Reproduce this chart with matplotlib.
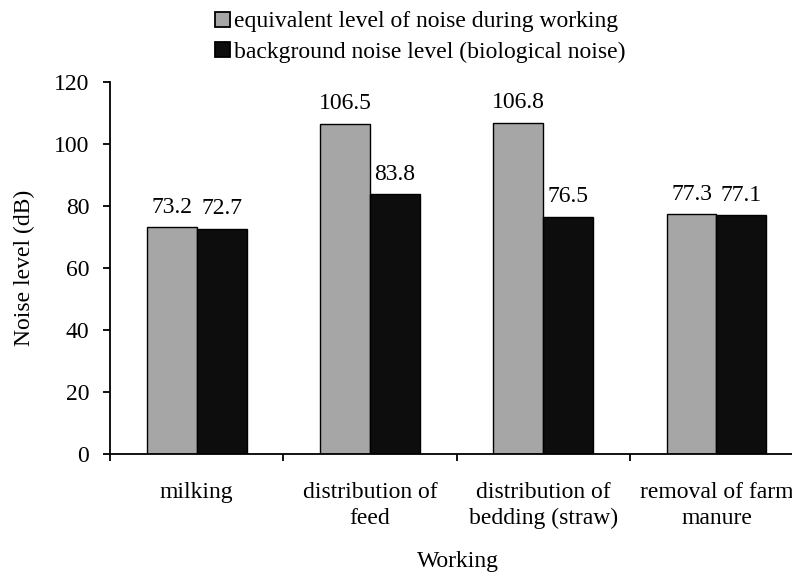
import numpy as np
import matplotlib.pyplot as plt
from matplotlib.patches import Patch

## Data

categories = ['milking', 'distribution of\nfeed', 'distribution of\nbedding (straw)', 'removal of farm\nmanure']
equivalent = [73.2, 106.5, 106.8, 77.3]
background = [72.7, 83.8, 76.5, 77.1]
series_names = ['equivalent level of noise during working',
                'background noise level (biological noise)']

plt.rcParams['font.family'] = ['Liberation Serif', 'DejaVu Serif']
fs = 17

fig = plt.figure(figsize=(7.92, 5.72), dpi=100)
# axes run past the right edge, the original picture is cropped there
ax = fig.add_axes([0.139, 0.206, 0.875, 0.651])

x = np.arange(len(categories))
w = 0.288
b1 = ax.bar(x - w / 2, equivalent, w, color='#a6a6a6', edgecolor='black', linewidth=1.0)
b2 = ax.bar(x + w / 2, background, w, color='#0d0d0d', edgecolor='black', linewidth=1.0)

for bars, vals in ((b1, equivalent), (b2, background)):
    for r, v in zip(bars, vals):
        ax.text(r.get_x() + r.get_width() / 2, v + 3, f'{v:.1f}',
                ha='center', va='bottom', fontsize=fs)

ax.set_xlim(-0.5, len(categories) - 0.5)
ax.set_ylim(0, 120)
ax.set_yticks(range(0, 121, 20))

# separators between categories as ticks
ax.set_xticks(np.arange(-0.5, len(categories), 1.0))
ax.set_xticklabels([])
ax.tick_params(axis='x', direction='out', length=5, width=1.3)
ax.tick_params(axis='y', direction='out', length=5, width=1.3, labelsize=fs, pad=10)
for i, c in enumerate(categories):
    ax.text(i, -9, c, ha='center', va='top', fontsize=fs, linespacing=1.3)

for s in ['top', 'right']:
    ax.spines[s].set_visible(False)
for s in ['left', 'bottom']:
    ax.spines[s].set_linewidth(1.3)

ax.set_ylabel('Noise level (dB)', fontsize=fs)
ax.yaxis.set_label_coords(-0.108, 0.5)
fig.text(0.578, 0.0, 'Working', ha='center', va='bottom', fontsize=fs)

handles = [Patch(facecolor='#a6a6a6', edgecolor='black', linewidth=1.3),
           Patch(facecolor='#0d0d0d', edgecolor='black', linewidth=1.3)]
fig.legend(handles, series_names, loc='upper left', bbox_to_anchor=(0.272, 0.98),
           frameon=False, fontsize=fs, handlelength=0.6, handleheight=0.6,
           handletextpad=0.17, labelspacing=0.4, borderpad=0, borderaxespad=0)

fig.savefig('out.png', dpi=100)
